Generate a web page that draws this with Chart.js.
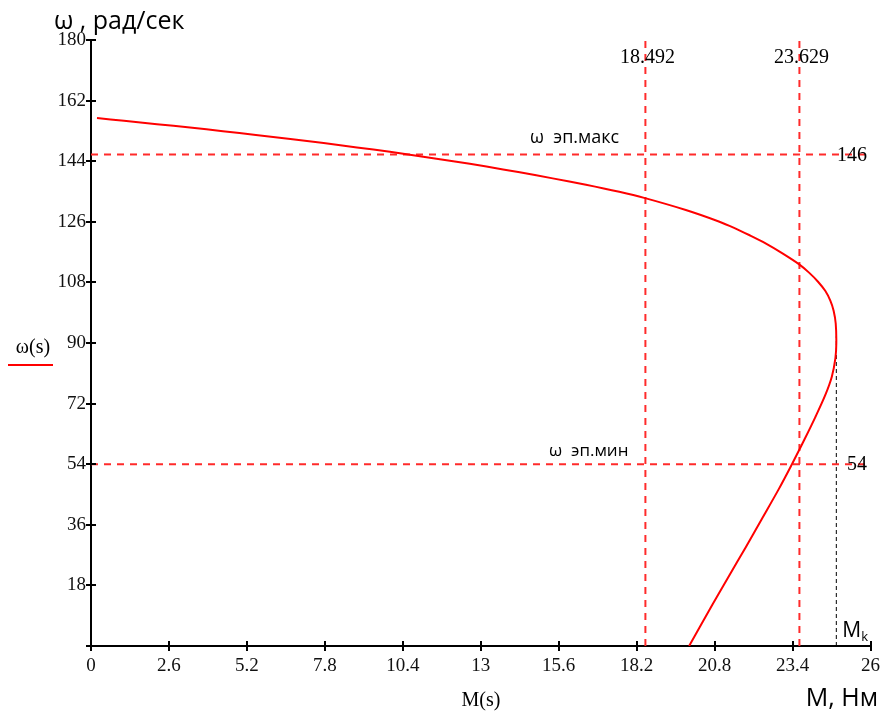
<!DOCTYPE html>
<html><head><meta charset="utf-8">
<script src="https://cdn.jsdelivr.net/npm/chart.js@4.4.0/dist/chart.umd.min.js"></script>
<style>html,body{margin:0;padding:0;background:#fff}#wrap{width:889px;height:716px}</style>
</head><body><div id="wrap"><canvas id="c" width="889" height="716"></canvas></div>
<script>
// Mechanical characteristic ω(M)
const mValues = [0.2, 1.1, 2.2, 3.3, 4.4, 5.5, 6.65, 7.76, 8.87, 9.97, 10.97, 12.08, 13.19, 14.3, 15.4, 16.51, 17.62, 18.45, 19.84, 20.94, 21.45, 21.97, 22.5, 23.05, 23.6, 23.95, 24.25, 24.49, 24.66, 24.77, 24.84, 24.86, 24.83, 24.71, 24.49, 24.16, 23.8, 23.38, 22.94, 22.38, 21.83, 21.28, 20.72, 19.95];
const omegaValues = [156.8, 156.0, 155.0, 154.0, 152.9, 151.8, 150.6, 149.4, 148.1, 146.8, 145.5, 144.0, 142.4, 140.7, 138.9, 137.0, 134.9, 133.1, 129.5, 126.1, 124.2, 122.0, 119.6, 116.7, 113.5, 110.9, 108.2, 105.5, 102.6, 99.6, 95.8, 90.0, 85.5, 80.0, 74.5, 68.0, 61.4, 54.0, 46.6, 37.8, 29.2, 20.8, 12.2, 0.0];

const xTickValues = [0, 2.6, 5.2, 7.8, 10.4, 13, 15.6, 18.2, 20.8, 23.4, 26];
const xTickLabels = ['0', '2.6', '5.2', '7.8', '10.4', '13', '15.6', '18.2', '20.8', '23.4', '26'];
const yTickValues = [0, 18, 36, 54, 72, 90, 108, 126, 144, 162, 180];
const yTickLabels = ['', '18', '36', '54', '72', '90', '108', '126', '144', '162', '180'];

const omegaMax = 146, omegaMin = 54;
const omegaMaxLabel = '146', omegaMinLabel = '54';
const mOp1 = 18.492, mOp2 = 23.629;
const mOp1Label = '18.492', mOp2Label = '23.629';
const mCrit = 24.86, omegaCrit = 92;
const hLineEnd = 25.9;
const xMin = 0, xMax = 26, yMin = 0, yMax = 180;

const serif = '"Liberation Serif", "Times New Roman", serif';
const sans = '"Open Sans", "Noto Sans", sans-serif';
const dashRed = '#ff2b2b';

const curve = mValues.map((m, i) => ({x: m, y: omegaValues[i]}));

const overlay = {
  id: 'overlay',
  afterDraw(chart) {
    const {ctx, chartArea} = chart;
    const xs = chart.scales.x, ys = chart.scales.y;
    ctx.save();
    // crossing tick marks
    ctx.strokeStyle = '#000';
    ctx.lineWidth = 2;
    ctx.beginPath();
    yTickValues.forEach(v => {
      const py = Math.round(ys.getPixelForValue(v));
      ctx.moveTo(chartArea.left - 5, py); ctx.lineTo(chartArea.left + 5, py);
    });
    xTickValues.forEach(v => {
      const px = Math.round(xs.getPixelForValue(v));
      ctx.moveTo(px, chartArea.bottom - 5); ctx.lineTo(px, chartArea.bottom + 5);
    });
    ctx.stroke();

    ctx.fillStyle = '#000';
    ctx.textBaseline = 'alphabetic';
    // axis titles
    ctx.font = '25px ' + sans;
    ctx.textAlign = 'left';
    ctx.fillText('ω , рад/сек', 54, 29);
    ctx.font = '25px ' + sans;
    ctx.textAlign = 'right';
    ctx.fillText('M, Нм', 878, 706);
    // Mk
    ctx.textAlign = 'left';
    ctx.font = '21px ' + sans;
    const mkX = xs.getPixelForValue(mCrit) + 6;
    ctx.fillText('M', mkX, 637);
    const mw = ctx.measureText('M').width;
    ctx.font = '13px ' + sans;
    ctx.fillText('k', mkX + mw, 641);

    // Mathcad-style labels
    ctx.font = '20px ' + serif;
    ctx.textAlign = 'center';
    ctx.fillText('M(s)', 481, 706);
    ctx.fillText('ω(s)', 33, 353);
    ctx.strokeStyle = '#ff0000';
    ctx.lineWidth = 2;
    ctx.beginPath(); ctx.moveTo(8, 365); ctx.lineTo(53, 365); ctx.stroke();

    ctx.fillText(mOp1Label, xs.getPixelForValue(mOp1) + 2, 63);
    ctx.fillText(mOp2Label, xs.getPixelForValue(mOp2) + 2, 63);
    ctx.textAlign = 'right';
    ctx.textBaseline = 'middle';
    ctx.fillText(omegaMaxLabel, 867, ys.getPixelForValue(omegaMax) + 1);
    ctx.fillText(omegaMinLabel, 867, ys.getPixelForValue(omegaMin) + 1);

    ctx.textBaseline = 'alphabetic';
    ctx.textAlign = 'left';
    ctx.font = '18px ' + sans;
    ctx.fillText('ω  эп.макс', 530, ys.getPixelForValue(omegaMax) - 11);
    ctx.font = '17px ' + sans;
    ctx.fillText('ω  эп.мин', 549, ys.getPixelForValue(omegaMin) - 8);
    ctx.restore();
  }
};

new Chart(document.getElementById('c'), {
  type: 'scatter',
  data: {
    datasets: [
      {data: curve, showLine: true, borderColor: '#ff0000', borderWidth: 2, pointRadius: 0, tension: 0.3, fill: false, order: 0},
      {data: [{x: xMin, y: omegaMax}, {x: hLineEnd, y: omegaMax}], showLine: true, borderColor: dashRed, borderWidth: 2, borderDash: [7, 6], pointRadius: 0, order: 1},
      {data: [{x: xMin, y: omegaMin}, {x: hLineEnd, y: omegaMin}], showLine: true, borderColor: dashRed, borderWidth: 2, borderDash: [7, 6], pointRadius: 0, order: 1},
      {data: [{x: mOp1, y: yMin}, {x: mOp1, y: yMax}], showLine: true, borderColor: dashRed, borderWidth: 2, borderDash: [7, 6], pointRadius: 0, order: 1},
      {data: [{x: mOp2, y: yMin}, {x: mOp2, y: yMax}], showLine: true, borderColor: dashRed, borderWidth: 2, borderDash: [7, 6], pointRadius: 0, order: 1},
      {data: [{x: mCrit, y: yMin}, {x: mCrit, y: omegaCrit}], showLine: true, borderColor: '#000', borderWidth: 1, borderDash: [4, 3], pointRadius: 0, order: 1}
    ]
  },
  options: {
    responsive: false,
    animation: false,
    devicePixelRatio: 1,
    layout: {padding: {top: 40, right: 17, bottom: 0, left: 0}},
    plugins: {legend: {display: false}, tooltip: {enabled: false}},
    scales: {
      x: {
        type: 'linear', min: xMin, max: xMax,
        afterBuildTicks: s => { s.ticks = xTickValues.map(v => ({value: v})); },
        afterFit: s => { s.height = 70; },
        ticks: {callback: (v, i) => xTickLabels[i], font: {family: serif, size: 19}, color: '#111', padding: 9, maxRotation: 0, autoSkip: false},
        grid: {display: false, drawTicks: false},
        border: {display: true, color: '#000', width: 2}
      },
      y: {
        type: 'linear', min: yMin, max: yMax,
        afterBuildTicks: s => { s.ticks = yTickValues.map(v => ({value: v})); },
        afterFit: s => { s.width = 91; },
        ticks: {callback: (v, i) => yTickLabels[i], font: {family: serif, size: 19}, color: '#111', padding: 5, autoSkip: false},
        grid: {display: false, drawTicks: false},
        border: {display: true, color: '#000', width: 2}
      }
    }
  },
  plugins: [overlay]
});
</script>
</body></html>
